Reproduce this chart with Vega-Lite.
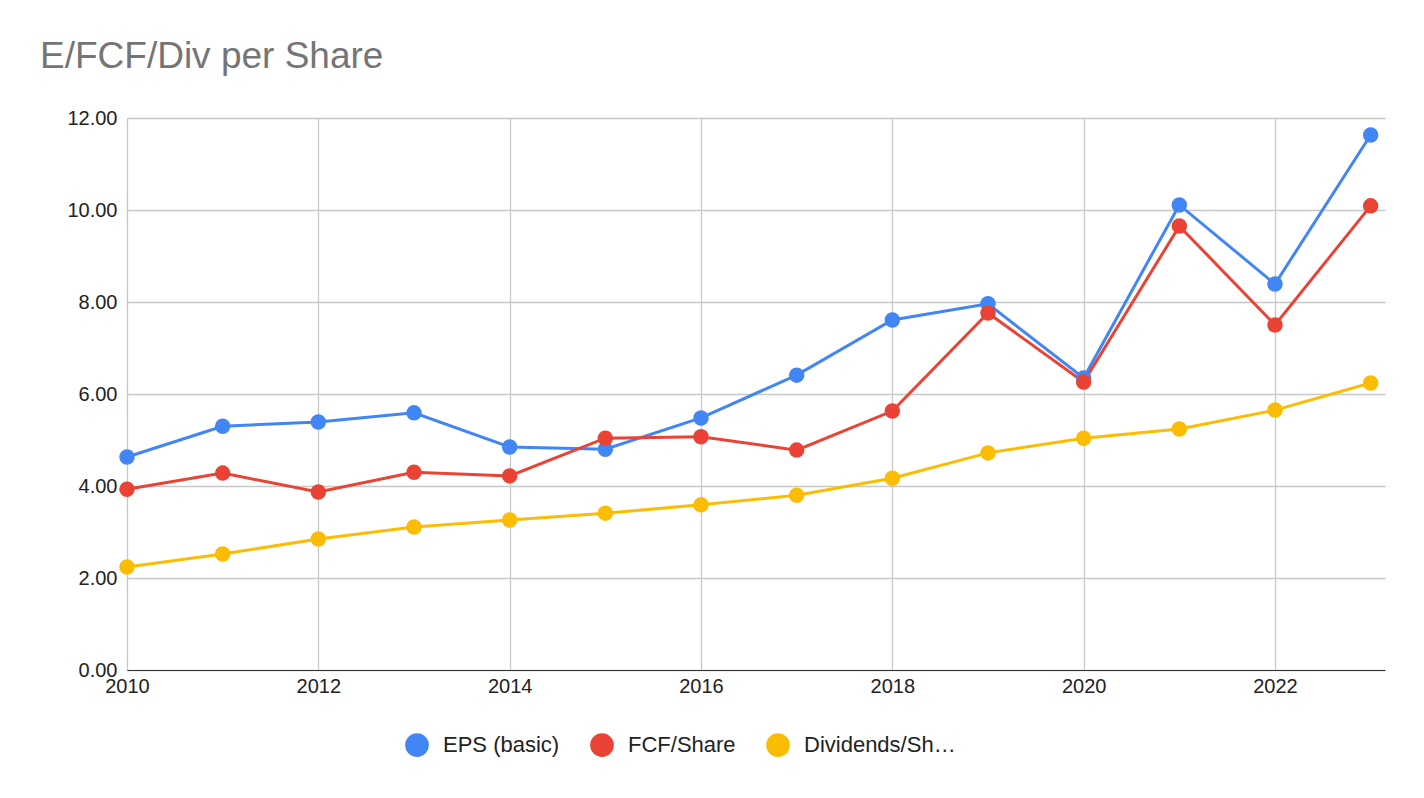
{
  "$schema": "https://vega.github.io/schema/vega-lite/v6.json",
  "autosize": "none",
  "padding": {"left": 127, "top": 118, "right": 40, "bottom": 128},
  "width": 1258,
  "height": 552,
  "background": "white",
  "title": {"text": "E/FCF/Div per Share", "anchor": "start", "frame": "group", "dx": -87, "offset": 32, "fontSize": 37, "fontWeight": "normal", "color": "#757575", "font": "Arial, Liberation Sans"},
  "config": {"font": "Arial, Liberation Sans", "view": {"stroke": null}},
  "data": {"values": [
    {"year": 2010, "s": "EPS (basic)", "v": 4.63}, {"year": 2011, "s": "EPS (basic)", "v": 5.30}, {"year": 2012, "s": "EPS (basic)", "v": 5.39}, {"year": 2013, "s": "EPS (basic)", "v": 5.59}, {"year": 2014, "s": "EPS (basic)", "v": 4.85}, {"year": 2015, "s": "EPS (basic)", "v": 4.80}, {"year": 2016, "s": "EPS (basic)", "v": 5.48}, {"year": 2017, "s": "EPS (basic)", "v": 6.41}, {"year": 2018, "s": "EPS (basic)", "v": 7.61}, {"year": 2019, "s": "EPS (basic)", "v": 7.96}, {"year": 2020, "s": "EPS (basic)", "v": 6.35}, {"year": 2021, "s": "EPS (basic)", "v": 10.11}, {"year": 2022, "s": "EPS (basic)", "v": 8.39}, {"year": 2023, "s": "EPS (basic)", "v": 11.63},
    {"year": 2010, "s": "FCF/Share", "v": 3.93}, {"year": 2011, "s": "FCF/Share", "v": 4.28}, {"year": 2012, "s": "FCF/Share", "v": 3.87}, {"year": 2013, "s": "FCF/Share", "v": 4.30}, {"year": 2014, "s": "FCF/Share", "v": 4.22}, {"year": 2015, "s": "FCF/Share", "v": 5.04}, {"year": 2016, "s": "FCF/Share", "v": 5.07}, {"year": 2017, "s": "FCF/Share", "v": 4.78}, {"year": 2018, "s": "FCF/Share", "v": 5.63}, {"year": 2019, "s": "FCF/Share", "v": 7.76}, {"year": 2020, "s": "FCF/Share", "v": 6.26}, {"year": 2021, "s": "FCF/Share", "v": 9.65}, {"year": 2022, "s": "FCF/Share", "v": 7.50}, {"year": 2023, "s": "FCF/Share", "v": 10.09},
    {"year": 2010, "s": "Dividends/Share", "v": 2.24}, {"year": 2011, "s": "Dividends/Share", "v": 2.52}, {"year": 2012, "s": "Dividends/Share", "v": 2.85}, {"year": 2013, "s": "Dividends/Share", "v": 3.11}, {"year": 2014, "s": "Dividends/Share", "v": 3.26}, {"year": 2015, "s": "Dividends/Share", "v": 3.41}, {"year": 2016, "s": "Dividends/Share", "v": 3.59}, {"year": 2017, "s": "Dividends/Share", "v": 3.80}, {"year": 2018, "s": "Dividends/Share", "v": 4.17}, {"year": 2019, "s": "Dividends/Share", "v": 4.72}, {"year": 2020, "s": "Dividends/Share", "v": 5.04}, {"year": 2021, "s": "Dividends/Share", "v": 5.24}, {"year": 2022, "s": "Dividends/Share", "v": 5.65}, {"year": 2023, "s": "Dividends/Share", "v": 6.24}
  ]},
  "encoding": {
    "x": {"field": "year", "type": "quantitative", "title": null,
      "scale": {"domain": [2010, 2023.15], "nice": false, "zero": false},
      "axis": {"values": [2010, 2012, 2014, 2016, 2018, 2020, 2022], "format": "d", "labelFontSize": 20, "labelColor": "#222", "gridColor": "#c8c8c8", "gridWidth": 1.3, "domainColor": "#333", "ticks": false, "labelPadding": 6, "labelFlush": false}},
    "y": {"field": "v", "type": "quantitative", "title": null,
      "scale": {"domain": [0, 12], "nice": false},
      "axis": {"values": [0, 2, 4, 6, 8, 10, 12], "format": ".2f", "labelFontSize": 20, "labelColor": "#222", "gridColor": "#c8c8c8", "gridWidth": 1.3, "domain": false, "ticks": false, "labelPadding": 10}},
    "color": {"field": "s", "type": "nominal", "title": null,
      "sort": ["EPS (basic)", "FCF/Share", "Dividends/Share"],
      "scale": {"domain": ["EPS (basic)", "FCF/Share", "Dividends/Share"], "range": ["#4285f4", "#ea4335", "#fbbc04"]},
      "legend": {"orient": "none", "direction": "horizontal", "legendX": 278, "legendY": 615, "symbolType": "circle", "symbolSize": 560, "symbolStrokeWidth": 0, "labelFontSize": 22, "labelColor": "#222", "columnPadding": 30, "labelOffset": 14}}
  },
  "layer": [
    {"mark": {"type": "line", "strokeWidth": 3}},
    {"mark": {"type": "circle", "size": 240, "opacity": 1}}
  ]
}
